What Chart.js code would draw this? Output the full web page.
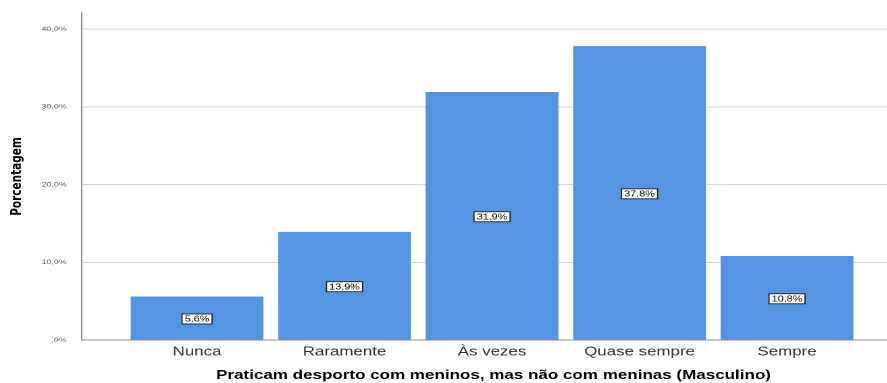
<!DOCTYPE html>
<html><head><meta charset="utf-8">
<script src="https://cdn.jsdelivr.net/npm/chart.js@4/dist/chart.umd.min.js"></script>
<style>
html,body{margin:0;padding:0;background:#fff;overflow:hidden;width:887px;height:383px}
#c{display:block}
</style>
</head><body>
<canvas id="c" width="670" height="383" style="width:905px;height:383px"></canvas>
<script>
const categories = ['Nunca', 'Raramente', 'Às vezes', 'Quase sempre', 'Sempre'];
const percentages = [5.6, 13.9, 31.9, 37.8, 10.8];
const yTickValues = [0, 10, 20, 30, 40];
const xAxisTitle = 'Praticam desporto com meninos, mas não com meninas (Masculino)';
const yAxisTitle = 'Porcentagem';

function fmtPct(v) {
  const s = v.toFixed(1).replace('.', ',');
  return (s.startsWith('0,') ? s.slice(1) : s) + '%';
}

const barLabels = {
  id: 'barLabels',
  afterDatasetsDraw(chart) {
    const ctx = chart.ctx;
    const meta = chart.getDatasetMeta(0);
    ctx.save();
    ctx.font = '8px "Liberation Sans", Arial, sans-serif';
    ctx.textAlign = 'center';
    ctx.textBaseline = 'middle';
    meta.data.forEach((el, i) => {
      const txt = fmtPct(percentages[i]);
      const w = ctx.measureText(txt).width + 4;
      const h = 10;
      const cx = el.x;
      const cy = (el.y + el.base) / 2 + 1;
      ctx.fillStyle = '#ffffff';
      ctx.fillRect(cx - w / 2, cy - h / 2, w, h);
      ctx.strokeStyle = '#222222';
      ctx.lineWidth = 0.9;
      ctx.strokeRect(cx - w / 2, cy - h / 2, w, h);
      ctx.fillStyle = '#000000';
      ctx.fillText(txt, cx, cy + 0.5);
    });
    ctx.restore();
  }
};

new Chart(document.getElementById('c'), {
  type: 'bar',
  data: {
    datasets: [{
      data: categories.map((c, i) => ({ x: i, y: percentages[i] })),
      backgroundColor: '#5494e1',
      borderWidth: 0,
      barPercentage: 0.9,
      categoryPercentage: 1.0
    }]
  },
  options: {
    responsive: false,
    maintainAspectRatio: false,
    devicePixelRatio: 2,
    animation: false,
    layout: { padding: { top: 13, left: 0, right: 0, bottom: 0 } },
    plugins: { legend: { display: false }, tooltip: { enabled: false } },
    scales: {
      x: {
        type: 'linear',
        min: -0.78,
        max: 4.80,
        offset: false,
        afterBuildTicks: s => { s.ticks = categories.map((c, i) => ({ value: i })); },
        afterFit: s => { s.height = 43; },
        ticks: {
          callback: v => categories[v],
          autoSkip: false,
          maxRotation: 0,
          padding: 4.7,
          color: '#333333',
          font: { family: '"Liberation Sans", Arial, sans-serif', size: 12.5 }
        },
        grid: { color: 'rgba(0,0,0,0)', drawTicks: false },
        border: { display: true, color: '#8c8c8c', width: 1 },
        title: {
          display: true,
          text: xAxisTitle,
          color: '#000000',
          font: { family: '"Liberation Sans", Arial, sans-serif', size: 12.6, weight: 'bold' },
          padding: { top: 0, bottom: 0 }
        }
      },
      y: {
        min: 0,
        max: 42.06,
        afterBuildTicks: s => { s.ticks = yTickValues.map(v => ({ value: v })); },
        afterFit: s => { s.width = 60.7; s.paddingTop = 0; s.paddingBottom = 0; },
        ticks: {
          callback: v => fmtPct(v),
          padding: 11.3,
          color: '#555555',
          font: { family: '"Liberation Sans Narrow", "Liberation Sans", sans-serif', size: 6.6 }
        },
        grid: { color: '#d6d6d6', lineWidth: 1, drawTicks: false },
        border: { display: true, color: '#8c8c8c', width: 1 },
        title: {
          display: true,
          text: yAxisTitle,
          color: '#000000',
          font: { family: '"DejaVu Sans", sans-serif', size: 10.5, weight: 'bold' },
          padding: { top: 6.3, bottom: 0 }
        }
      }
    }
  },
  plugins: [barLabels]
});
</script>
</body></html>
